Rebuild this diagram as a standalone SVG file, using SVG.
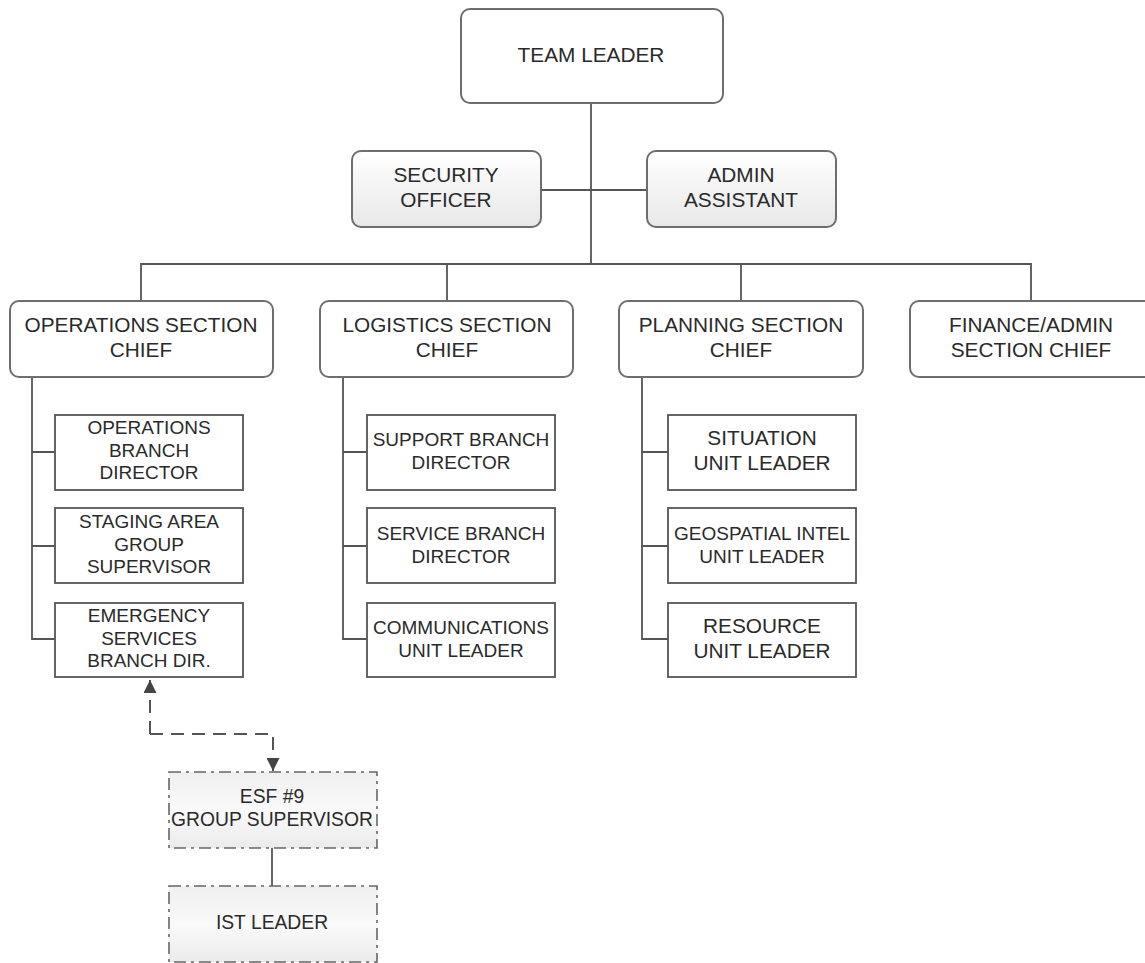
<svg xmlns="http://www.w3.org/2000/svg" width="1145" height="963" viewBox="0 0 1145 963">
  <defs>
    <linearGradient id="gradGray" x1="0" y1="0" x2="0" y2="1">
      <stop offset="0" stop-color="#ffffff"/>
      <stop offset="1" stop-color="#e8e8e8"/>
    </linearGradient>
    <linearGradient id="gradDash" x1="0" y1="0" x2="0" y2="1">
      <stop offset="0" stop-color="#efefef"/>
      <stop offset="0.5" stop-color="#fafafa"/>
      <stop offset="1" stop-color="#ebebeb"/>
    </linearGradient>
    <marker id="arrow" viewBox="0 0 10 10" refX="10" refY="5" markerWidth="14" markerHeight="13" markerUnits="userSpaceOnUse" orient="auto">
      <path d="M0,0 L10,5 L0,10 z" fill="#444"/>
    </marker>
  </defs>
  <style>
    text { font-family: "Liberation Sans", Arial, sans-serif; fill: #2a2a2a; text-anchor: middle; }
    .t20 { font-size: 20.8px; }
    .t18 { font-size: 19px; }
    .t19 { font-size: 19.3px; }
    .rbox { fill: #ffffff; stroke: #6e6e6e; stroke-width: 2; }
    .gbox { fill: url(#gradGray); stroke: #6e6e6e; stroke-width: 2; }
    .sbox { fill: #ffffff; stroke: #555555; stroke-width: 1.8; }
    .dbox { fill: url(#gradDash); stroke: #666666; stroke-width: 1.6; stroke-dasharray: 12 5 3 5; }
    .line { fill: none; stroke: #555555; stroke-width: 1.8; }
    .dash { fill: none; stroke: #555555; stroke-width: 2; stroke-dasharray: 13 8; }
  </style>

  <!-- connectors -->
  <g id="connectors">
    <path class="line" d="M591,103 V264"/>
    <path class="line" d="M541,190 H647"/>
    <path class="line" d="M141,301 V264 H1031 V301"/>
    <path class="line" d="M447,264 V301"/>
    <path class="line" d="M741,264 V301"/>
    <path class="line" d="M32,377 V639 H55 M32,452 H55 M32,546 H55"/>
    <path class="line" d="M343,377 V639 H367 M343,452 H367 M343,546 H367"/>
    <path class="line" d="M642,377 V639 H668 M642,452 H668 M642,546 H668"/>
    <path class="line" d="M272,848 V886"/>
    <path class="dash" d="M150,734 V680" marker-end="url(#arrow)"/>
    <path class="dash" d="M150,734 H273 V771" marker-end="url(#arrow)"/>
  </g>

  <g id="team-leader">
    <rect class="rbox" x="461" y="9" width="262" height="94" rx="9"/>
    <text class="t20" x="591" y="62">TEAM LEADER</text>
  </g>

  <g id="security-officer">
    <rect class="gbox" x="352" y="151" width="189" height="76" rx="9"/>
    <text class="t20" x="446" y="182">SECURITY</text>
    <text class="t20" x="446" y="207">OFFICER</text>
  </g>

  <g id="admin-assistant">
    <rect class="gbox" x="647" y="151" width="189" height="76" rx="9"/>
    <text class="t20" x="741" y="182">ADMIN</text>
    <text class="t20" x="741" y="207">ASSISTANT</text>
  </g>

  <g id="operations-chief">
    <rect class="rbox" x="10" y="301" width="263" height="76" rx="9"/>
    <text class="t20" x="141" y="332">OPERATIONS SECTION</text>
    <text class="t20" x="141" y="357">CHIEF</text>
  </g>

  <g id="logistics-chief">
    <rect class="rbox" x="320" y="301" width="253" height="76" rx="9"/>
    <text class="t20" x="447" y="332">LOGISTICS SECTION</text>
    <text class="t20" x="447" y="357">CHIEF</text>
  </g>

  <g id="planning-chief">
    <rect class="rbox" x="619" y="301" width="244" height="76" rx="9"/>
    <text class="t20" x="741" y="332">PLANNING SECTION</text>
    <text class="t20" x="741" y="357">CHIEF</text>
  </g>

  <g id="finance-chief">
    <rect class="rbox" x="910" y="301" width="250" height="76" rx="9"/>
    <text class="t20" x="1031" y="332">FINANCE/ADMIN</text>
    <text class="t20" x="1031" y="357">SECTION CHIEF</text>
  </g>

  <!-- operations branch -->
  <g id="ops-branch-director">
    <rect class="sbox" x="55" y="415" width="188" height="75"/>
    <text class="t18" x="149" y="434">OPERATIONS</text>
    <text class="t18" x="149" y="457">BRANCH</text>
    <text class="t18" x="149" y="479">DIRECTOR</text>
  </g>
  <g id="staging-area-supervisor">
    <rect class="sbox" x="55" y="508" width="188" height="75"/>
    <text class="t18" x="149" y="528">STAGING AREA</text>
    <text class="t18" x="149" y="551">GROUP</text>
    <text class="t18" x="149" y="573">SUPERVISOR</text>
  </g>
  <g id="emergency-services-director">
    <rect class="sbox" x="55" y="603" width="188" height="74"/>
    <text class="t18" x="149" y="622">EMERGENCY</text>
    <text class="t18" x="149" y="645">SERVICES</text>
    <text class="t18" x="149" y="667">BRANCH DIR.</text>
  </g>

  <!-- logistics branch -->
  <g id="support-branch-director">
    <rect class="sbox" x="367" y="415" width="188" height="75"/>
    <text class="t18" x="461" y="446">SUPPORT BRANCH</text>
    <text class="t18" x="461" y="469">DIRECTOR</text>
  </g>
  <g id="service-branch-director">
    <rect class="sbox" x="367" y="508" width="188" height="75"/>
    <text class="t18" x="461" y="540">SERVICE BRANCH</text>
    <text class="t18" x="461" y="563">DIRECTOR</text>
  </g>
  <g id="communications-unit-leader">
    <rect class="sbox" x="367" y="603" width="188" height="74"/>
    <text class="t18" x="461" y="634">COMMUNICATIONS</text>
    <text class="t18" x="461" y="657">UNIT LEADER</text>
  </g>

  <!-- planning branch -->
  <g id="situation-unit-leader">
    <rect class="sbox" x="668" y="415" width="188" height="75"/>
    <text class="t20" x="762" y="445">SITUATION</text>
    <text class="t20" x="762" y="470">UNIT LEADER</text>
  </g>
  <g id="geospatial-unit-leader">
    <rect class="sbox" x="668" y="508" width="188" height="75"/>
    <text class="t18" x="762" y="540">GEOSPATIAL INTEL</text>
    <text class="t18" x="762" y="563">UNIT LEADER</text>
  </g>
  <g id="resource-unit-leader">
    <rect class="sbox" x="668" y="603" width="188" height="74"/>
    <text class="t20" x="762" y="633">RESOURCE</text>
    <text class="t20" x="762" y="658">UNIT LEADER</text>
  </g>

  <!-- ESF #9 -->
  <g id="esf9-supervisor">
    <rect class="dbox" x="169" y="772" width="208" height="76"/>
    <text class="t19" x="272" y="803">ESF #9</text>
    <text class="t19" x="272" y="826">GROUP SUPERVISOR</text>
  </g>
  <g id="ist-leader">
    <rect class="dbox" x="169" y="886" width="208" height="76"/>
    <text class="t19" x="272" y="929">IST LEADER</text>
  </g>
</svg>
